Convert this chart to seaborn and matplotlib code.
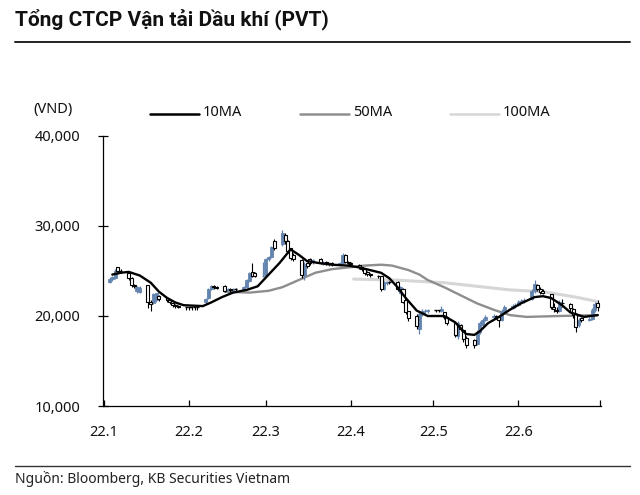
import numpy as np
import pandas as pd
import matplotlib
matplotlib.use("Agg")
import matplotlib.pyplot as plt
import seaborn as sns
from matplotlib.lines import Line2D

# ---------------- data ----------------
title = "Tổng CTCP Vận tải Dầu khí (PVT)"
source = "Nguồn: Bloomberg, KB Securities Vietnam"
unit_label = "(VND)"
month_ticks = ["2022-01-01", "2022-02-01", "2022-03-01", "2022-04-01",
               "2022-05-01", "2022-06-01", "2022-07-01"]
month_labels = ["22.1", "22.2", "22.3", "22.4", "22.5", "22.6", ""]
y_ticks = [10000, 20000, 30000, 40000]
legend_labels = ["10MA", "50MA", "100MA"]

trade_dates = pd.bdate_range("2022-01-03", "2022-06-30")

open_k = [23.8, 24.1, 24.2, 25.4, 25.0,  24.8, 24.2, 23.4, 22.8, 22.7,
          23.4, 21.6, 21.4, 21.8, 22.2,  22.0, 21.8, 21.4, 21.2, 21.1,
          21.0, 21.0, 21.0, 21.0, 21.0,  21.6, 22.0, 23.0, 23.3, 23.2,
          23.3, 22.9, 23.0, 22.9, 23.0,  23.0, 23.2, 23.9, 24.9, 24.8,
          24.4, 24.6, 26.3, 26.5, 28.3,  28.0, 29.0, 28.3, 27.5, 26.8,
          26.2, 24.5, 25.9, 26.3, 26.0,  26.3, 25.9, 26.0, 25.8, 25.9,
          25.8, 25.9, 26.8, 26.0, 25.9,  25.7, 25.4, 25.2, 24.9, 24.7,
          24.5, 24.4, 23.0, 23.7, 23.8,  23.8, 22.6, 23.0, 21.8, 20.5,
          20.0, 18.6, 20.2, 20.5, 20.5,  20.7, 20.7, 20.6, 20.4, 19.9,
          19.2, 17.8, 19.0, 18.4, 17.6,  17.3, 16.9, 18.2, 19.0, 19.6,
          19.9, 20.0, 19.9, 19.6, 20.6,  20.9, 21.1, 21.2, 21.6, 21.7,
          21.9, 22.8, 23.4, 23.0, 22.8,  22.4, 21.0, 20.7, 20.6, 21.5,
          21.3, 20.8, 20.2, 19.0, 19.8,  19.6, 19.7, 20.7, 21.4]
close_k = [24.1, 24.3, 25.0, 25.0, 25.0,  24.2, 23.4, 23.3, 23.2, 23.1,
           21.6, 21.3, 22.4, 22.5, 21.9,  21.8, 21.5, 21.2, 21.1, 21.0,
           21.0, 21.0, 21.0, 21.0, 21.0,  21.9, 23.0, 23.3, 23.2, 23.1,
           22.8, 23.0, 22.9, 23.0, 23.0,  23.2, 24.0, 24.8, 24.4, 24.4,
           24.5, 26.3, 26.5, 27.7, 27.6,  29.2, 28.3, 27.2, 26.4, 26.3,
           24.5, 25.8, 25.5, 25.9, 26.2,  25.9, 26.0, 25.8, 25.9, 25.8,
           25.9, 26.8, 26.0, 25.9, 25.8,  25.4, 25.2, 24.8, 24.7, 24.5,
           24.4, 23.0, 23.7, 23.8, 23.8,  23.0, 23.2, 21.6, 20.4, 19.8,
           18.9, 20.2, 20.6, 20.6, 20.7,  20.7, 20.7, 20.8, 19.9, 19.2,
           17.9, 19.2, 18.6, 17.4, 16.8,  16.8, 18.2, 19.2, 19.6, 19.9,
           20.0, 19.9, 19.5, 20.6, 21.0,  21.1, 21.2, 21.6, 21.7, 21.8,
           22.8, 23.5, 23.0, 22.7, 22.6,  21.0, 20.8, 20.6, 21.6, 21.4,
           20.9, 20.1, 18.8, 19.6, 19.5,  19.7, 20.7, 21.3, 21.0]
high_k = [24.3, 24.5, 25.2, 25.5, 25.2,  24.9, 24.3, 23.6, 23.3, 23.3,
          23.5, 21.8, 22.6, 22.6, 22.3,  22.1, 21.9, 21.5, 21.3, 21.2,
          21.0, 21.0, 21.0, 21.0, 21.0,  22.0, 23.1, 23.5, 23.4, 23.3,
          23.4, 23.1, 23.1, 23.1, 23.1,  23.3, 24.1, 24.9, 25.9, 24.9,
          26.0, 26.5, 26.7, 27.8, 28.5,  29.5, 29.2, 28.4, 27.6, 27.0,
          26.3, 26.0, 26.0, 26.4, 26.3,  26.4, 26.1, 26.1, 26.0, 26.0,
          26.0, 27.0, 26.9, 26.1, 26.0,  25.8, 25.5, 25.3, 25.0, 24.8,
          24.6, 24.5, 23.9, 23.9, 23.9,  23.9, 23.3, 23.1, 21.9, 20.6,
          20.2, 20.4, 20.8, 20.8, 20.8,  20.7, 20.7, 21.1, 20.5, 20.0,
          19.3, 19.4, 19.1, 18.5, 17.8,  17.4, 18.4, 19.4, 19.8, 20.1,
          20.2, 20.1, 20.0, 20.8, 21.2,  21.3, 21.4, 21.8, 21.9, 22.0,
          23.0, 24.0, 23.6, 23.2, 23.0,  22.5, 21.4, 21.0, 21.8, 21.9,
          21.4, 20.9, 20.3, 19.8, 19.9,  19.9, 20.9, 21.6, 21.8]
low_k = [23.7, 23.9, 24.1, 24.9, 24.8,  24.0, 23.2, 23.1, 22.6, 22.6,
         20.9, 20.6, 21.3, 21.6, 21.7,  21.6, 21.3, 21.0, 20.9, 20.9,
         20.7, 20.7, 20.7, 20.7, 20.7,  21.5, 21.9, 22.9, 23.0, 23.0,
         22.7, 22.7, 22.7, 22.7, 22.7,  22.9, 23.1, 23.8, 24.3, 24.3,
         24.3, 24.5, 26.1, 26.4, 27.3,  27.8, 28.0, 27.0, 26.2, 26.1,
         24.2, 24.0, 25.3, 25.7, 25.8,  25.8, 25.7, 25.7, 25.6, 25.6,
         25.6, 25.8, 25.9, 25.7, 25.6,  25.2, 25.0, 24.6, 24.5, 24.3,
         24.2, 22.8, 22.9, 23.5, 23.6,  22.8, 22.4, 21.4, 20.2, 19.5,
         18.6, 18.0, 20.0, 20.2, 20.3,  20.5, 20.5, 20.5, 19.7, 19.0,
         17.7, 17.4, 18.3, 17.1, 16.5,  16.5, 16.8, 18.0, 18.8, 19.5,
         19.7, 19.7, 18.8, 19.5, 20.5,  20.8, 20.9, 21.1, 21.4, 21.5,
         21.8, 22.6, 22.8, 22.5, 22.4,  20.8, 20.4, 20.3, 20.5, 21.0,
         20.5, 19.8, 18.2, 18.8, 19.3,  19.4, 19.6, 20.5, 20.6]

ma10_dates = ["2022-01-04", "2022-01-07", "2022-01-10", "2022-01-14", "2022-01-18",
              "2022-01-21", "2022-01-24", "2022-01-27", "2022-01-30", "2022-02-06",
              "2022-02-09", "2022-02-13", "2022-02-17", "2022-02-22", "2022-02-26",
              "2022-03-02", "2022-03-06", "2022-03-10", "2022-03-13", "2022-03-16",
              "2022-03-20", "2022-03-25", "2022-03-31", "2022-04-04", "2022-04-08",
              "2022-04-12", "2022-04-15", "2022-04-18", "2022-04-21", "2022-04-23",
              "2022-04-25", "2022-04-29", "2022-05-05", "2022-05-09", "2022-05-13",
              "2022-05-16", "2022-05-18", "2022-05-21", "2022-05-25", "2022-05-29",
              "2022-06-02", "2022-06-07", "2022-06-10", "2022-06-13", "2022-06-17",
              "2022-06-20", "2022-06-25", "2022-06-30"]
ma10_k = [24.6, 24.8, 24.9, 24.5, 23.7,
          22.7, 22.0, 21.5, 21.2, 21.1,
          21.5, 22.1, 22.6, 22.9, 23.3,
          24.6, 25.9, 27.4, 26.8, 26.1,
          25.9, 25.7, 25.6, 25.4, 25.1,
          24.8, 24.2, 23.2, 22.0, 21.3,
          20.6, 20.0, 20.0, 19.3, 18.0,
          17.9, 18.3, 19.2, 19.9, 20.7,
          21.4, 22.1, 22.2, 22.0, 21.2,
          20.4, 19.9, 20.1]

ma50_dates = ["2022-02-14", "2022-02-23", "2022-03-02", "2022-03-07", "2022-03-13",
              "2022-03-19", "2022-03-25", "2022-03-31", "2022-04-06", "2022-04-12",
              "2022-04-16", "2022-04-22", "2022-04-26", "2022-04-29", "2022-05-05",
              "2022-05-11", "2022-05-17", "2022-05-23", "2022-05-29", "2022-06-04",
              "2022-06-16", "2022-06-30"]
ma50_k = [22.7, 22.6, 22.8, 23.2, 24.0,
          24.8, 25.2, 25.4, 25.6, 25.7,
          25.6, 25.1, 24.6, 24.0, 23.2,
          22.3, 21.4, 20.7, 20.1, 19.9,
          20.0, 20.1]

ma100_dates = ["2022-04-02", "2022-04-17", "2022-05-05", "2022-05-29",
               "2022-06-10", "2022-06-22", "2022-06-30"]
ma100_k = [24.1, 24.0, 23.7, 22.9, 22.7, 22.1, 21.6]

# ---------------- style ----------------
sns.set_theme(style="white")
plt.rcParams["font.family"] = ["Noto Sans", "DejaVu Sans"]

W, H = 640, 495
fig = plt.figure(figsize=(6.4, 4.95), dpi=100)
ax = fig.add_axes([103 / W, 1 - 406 / H, (601 - 103) / W, 270 / H])

base = pd.Timestamp("2022-01-01")


def dnum(dates):
    return np.asarray((pd.to_datetime(pd.Index(dates)) - base).days, dtype=float)


blue = "#6384ae"
x = dnum(trade_dates)
o = np.array(open_k) * 1000
c = np.array(close_k) * 1000
hi = np.array(high_k) * 1000
lo = np.array(low_k) * 1000
up = c > o
down = c < o
flat = c == o
bw = 1.1

# moving averages (behind candles for 100/50, in front for 10)
sns.lineplot(x=dnum(ma100_dates), y=np.array(ma100_k) * 1000, ax=ax,
             color="#d6d6d6", lw=2.2, zorder=1, estimator=None, sort=False)
sns.lineplot(x=dnum(ma50_dates), y=np.array(ma50_k) * 1000, ax=ax,
             color="#8e8e8e", lw=1.7, zorder=1.5, estimator=None, sort=False)

ax.vlines(x[up], lo[up], hi[up], color=blue, lw=0.9, zorder=2)
ax.vlines(x[~up], lo[~up], hi[~up], color="black", lw=0.8, zorder=2)
ax.bar(x[up], (c - o)[up], bottom=o[up], width=bw, color=blue,
       edgecolor=blue, lw=0.6, zorder=3)
ax.bar(x[down], (o - c)[down], bottom=c[down], width=bw, color="white",
       edgecolor="black", lw=0.8, zorder=3)
ax.hlines(c[flat], x[flat] - bw / 2, x[flat] + bw / 2, color="black",
          lw=1.0, zorder=3)

sns.lineplot(x=dnum(ma10_dates), y=np.array(ma10_k) * 1000, ax=ax,
             color="black", lw=1.7, zorder=4, estimator=None, sort=False)

# axes
ax.set_xlim(-0.4, 181.2)
ax.set_ylim(10000, 40000)
ax.set_yticks(y_ticks)
ax.set_yticklabels([f"{v:,}" for v in y_ticks])
ax.set_xticks(dnum(month_ticks))
ax.set_xticklabels(month_labels)
ax.set_xlabel("")
ax.set_ylabel("")
for s in ["top", "right"]:
    ax.spines[s].set_visible(False)
for s in ["left", "bottom"]:
    ax.spines[s].set_color("black")
    ax.spines[s].set_linewidth(0.9)
ax.tick_params(axis="y", direction="inout", length=7, width=0.9,
               color="black", pad=13, labelsize=10.5, labelcolor="#111111", left=True)
ax.tick_params(axis="x", direction="in", length=4, width=0.9,
               color="black", pad=14, labelsize=10.5, labelcolor="#111111", bottom=True)
ax.grid(False)


def fx(px):
    return px / W


def fy(py):
    return 1 - py / H


# title, rules, source
fig.text(fx(15), fy(19), title, fontsize=15, fontweight="bold",
         family=["Roboto", "DejaVu Sans"], color="#111111", va="center", ha="left")
fig.add_artist(Line2D([fx(15), fx(630)], [fy(42), fy(42)],
                      transform=fig.transFigure, color="#222222", lw=1.4))
fig.add_artist(Line2D([fx(15), fx(630)], [fy(466), fy(466)],
                      transform=fig.transFigure, color="#333333", lw=1.0))
fig.text(fx(15), fy(479), source, fontsize=10, color="#222222",
         va="center", ha="left")

# unit label
fig.text(fx(33), fy(109), unit_label, fontsize=10.5, color="#111111",
         va="center", ha="left")

# legend
leg_colors = ["black", "#8e8e8e", "#d6d6d6"]
leg_x = [150, 300, 450]
for lab, col, lx in zip(legend_labels, leg_colors, leg_x):
    fig.add_artist(Line2D([fx(lx), fx(lx + 49)], [fy(114), fy(114)],
                          transform=fig.transFigure, color=col, lw=1.8))
    fig.text(fx(lx + 53), fy(113), lab, fontsize=10.5, color="#111111",
             va="center", ha="left")

fig.savefig("out.png", dpi=100)
